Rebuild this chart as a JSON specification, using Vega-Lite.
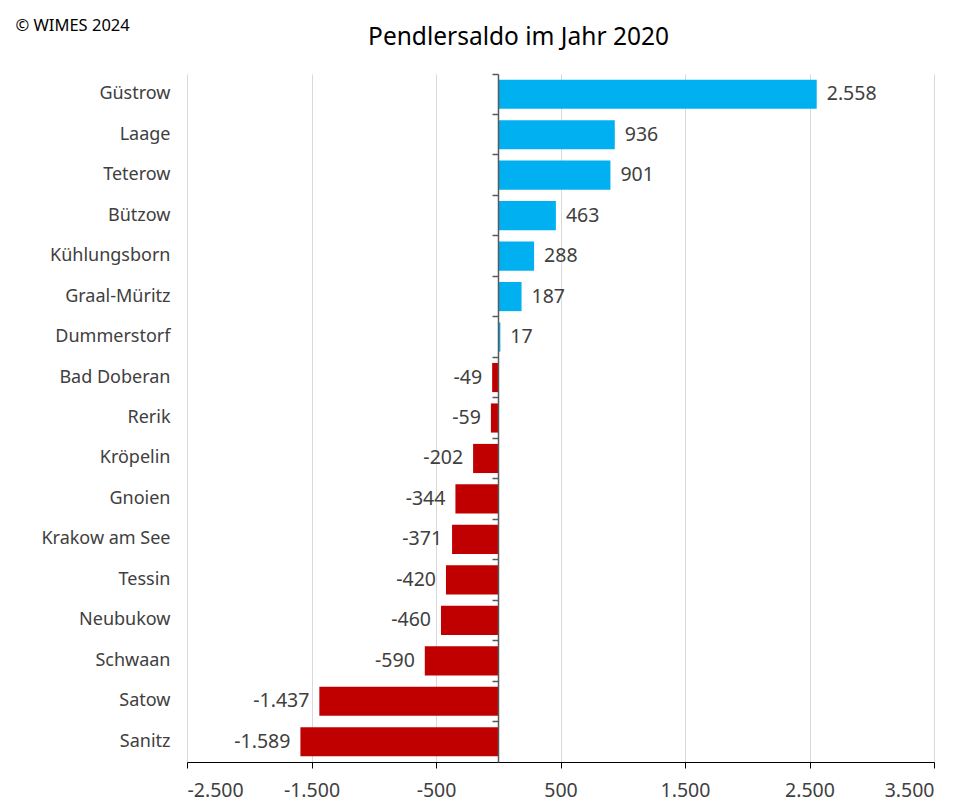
{
  "$schema": "https://vega.github.io/schema/vega-lite/v6.json",
  "width": 747,
  "height": 688,
  "autosize": {"type": "none"},
  "padding": {"left": 187, "top": 74, "right": 30, "bottom": 46},
  "background": "white",
  "config": {
    "locale": {"number": {"decimal": ",", "thousands": ".", "grouping": [3], "currency": ["", " €"], "minus": "-"}},
    "font": "Noto Sans",
    "view": {"stroke": null}
  },
  "title": {
    "text": "Pendlersaldo im Jahr 2020",
    "anchor": "middle",
    "frame": "group",
    "dx": -42,
    "offset": -52,
    "baseline": "alphabetic",
    "fontSize": 24.5,
    "fontWeight": "normal",
    "color": "#000000",
    "font": "Noto Sans"
  },
  "data": {
    "values": [
      {"ort": "Güstrow", "saldo": 2558},
      {"ort": "Laage", "saldo": 936},
      {"ort": "Teterow", "saldo": 901},
      {"ort": "Bützow", "saldo": 463},
      {"ort": "Kühlungsborn", "saldo": 288},
      {"ort": "Graal-Müritz", "saldo": 187},
      {"ort": "Dummerstorf", "saldo": 17},
      {"ort": "Bad Doberan", "saldo": -49},
      {"ort": "Rerik", "saldo": -59},
      {"ort": "Kröpelin", "saldo": -202},
      {"ort": "Gnoien", "saldo": -344},
      {"ort": "Krakow am See", "saldo": -371},
      {"ort": "Tessin", "saldo": -420},
      {"ort": "Neubukow", "saldo": -460},
      {"ort": "Schwaan", "saldo": -590},
      {"ort": "Satow", "saldo": -1437},
      {"ort": "Sanitz", "saldo": -1589}
    ]
  },
  "encoding": {
    "x": {
      "field": "saldo",
      "type": "quantitative",
      "scale": {"domain": [-2500, 3500], "nice": false},
      "axis": {
        "title": null,
        "values": [-2500, -1500, -500, 500, 1500, 2500, 3500],
        "format": ",d",
        "grid": true,
        "gridColor": "#d9d9d9",
        "gridWidth": 1,
        "domainColor": "#000000",
        "domainWidth": 1,
        "tickColor": "#000000",
        "tickSize": 6,
        "labelFontSize": 19.5,
        "labelColor": "#404040",
        "labelPadding": 13,
        "labelFont": "Noto Sans"
      }
    }
  },
  "layer": [
    {
      "mark": {"type": "bar"},
      "encoding": {
        "y": {
          "field": "ort",
          "type": "nominal",
          "sort": null,
          "scale": {"paddingInner": 0.28, "paddingOuter": 0.14},
          "axis": {
            "orient": "left",
            "domain": false,
            "ticks": false,
            "tickSize": 0,
            "grid": false,
            "labelPadding": 17,
            "labelFontSize": 18,
            "labelColor": "#404040",
            "labelFont": "Noto Sans",
            "title": "© WIMES 2024",
            "titleAngle": 0,
            "titleAlign": "left",
            "titleBaseline": "alphabetic",
            "titleX": -172,
            "titleY": -44,
            "titleFontSize": 16.5,
            "titleFontWeight": "normal",
            "titleColor": "#000000",
            "titleFont": "Noto Sans"
          }
        },
        "color": {
          "condition": {"test": "datum.saldo < 0", "value": "#C00000"},
          "value": "#00B0F0"
        }
      }
    },
    {
      "transform": [{"filter": "datum.saldo >= 0"}],
      "mark": {"type": "text", "align": "left", "baseline": "middle", "dx": 10, "fontSize": 19.5, "color": "#404040", "font": "Noto Sans"},
      "encoding": {
        "y": {
          "field": "ort",
          "type": "nominal",
          "sort": null,
          "axis": {
            "orient": "left",
            "offset": -311,
            "labels": false,
            "title": null,
            "grid": false,
            "domain": true,
            "domainColor": "#595959",
            "domainWidth": 1.5,
            "ticks": true,
            "tickColor": "#595959",
            "tickWidth": 1.5,
            "tickSize": 6,
            "bandPosition": -0.1944,
            "zindex": 2
          }
        },
        "text": {"field": "saldo", "type": "quantitative", "format": ",d"}
      }
    },
    {
      "transform": [{"filter": "datum.saldo < 0"}],
      "mark": {"type": "text", "align": "right", "baseline": "middle", "dx": -10, "fontSize": 19.5, "color": "#404040", "font": "Noto Sans"},
      "encoding": {
        "y": {"field": "ort", "type": "nominal", "sort": null, "axis": null},
        "text": {"field": "saldo", "type": "quantitative", "format": ",d"}
      }
    }
  ],
  "resolve": {"axis": {"y": "independent"}}
}
